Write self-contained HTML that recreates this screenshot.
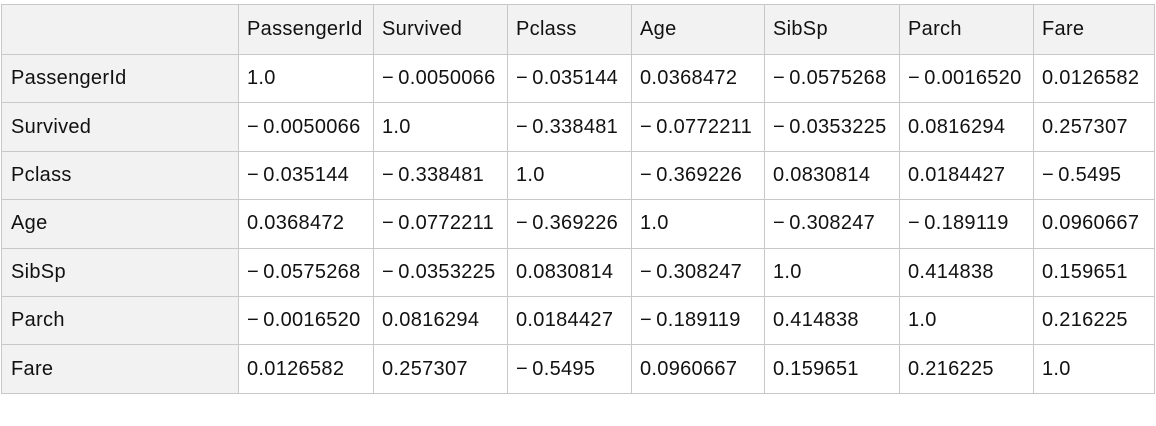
<!DOCTYPE html>
<html><head><style>
body{margin:0;width:1156px;height:426px;background:#fff;position:relative;overflow:hidden;font-family:"Liberation Sans",sans-serif;font-size:20px;color:#111}
.c{position:absolute;box-sizing:border-box;border:1px solid #c8c8c8;margin:0;padding-left:9px;display:flex;align-items:center;white-space:nowrap;overflow:hidden;background:#fff;letter-spacing:0.3px}
.h{background:#f2f2f2}
</style></head><body>
<div id="t"></div>
<script>
var xs=[1,238,373,507,631,764,899,1033,1154];
var ys=[4,54,102.4,150.8,199.2,247.6,296,344.4,393];
var m="\u2212\u2009";
var d=[["","PassengerId","Survived","Pclass","Age","SibSp","Parch","Fare"],
["PassengerId","1.0",m+"0.0050066",m+"0.035144","0.0368472",m+"0.0575268",m+"0.0016520","0.0126582"],
["Survived",m+"0.0050066","1.0",m+"0.338481",m+"0.0772211",m+"0.0353225","0.0816294","0.257307"],
["Pclass",m+"0.035144",m+"0.338481","1.0",m+"0.369226","0.0830814","0.0184427",m+"0.5495"],
["Age","0.0368472",m+"0.0772211",m+"0.369226","1.0",m+"0.308247",m+"0.189119","0.0960667"],
["SibSp",m+"0.0575268",m+"0.0353225","0.0830814",m+"0.308247","1.0","0.414838","0.159651"],
["Parch",m+"0.0016520","0.0816294","0.0184427",m+"0.189119","0.414838","1.0","0.216225"],
["Fare","0.0126582","0.257307",m+"0.5495","0.0960667","0.159651","0.216225","1.0"]];
var h="";
for(var r=0;r<8;r++)for(var c=0;c<8;c++){
var x=xs[c],y=ys[r],w=xs[c+1]-x+1,hh=ys[r+1]-y+1;
h+='<div class="c'+((r==0||c==0)?' h':'')+'" style="left:'+x+'px;top:'+y+'px;width:'+w+'px;height:'+hh+'px;padding-left:'+(c==0?9:8)+'px">'+d[r][c]+'</div>';}
document.getElementById('t').innerHTML=h;
</script>
</body></html>
